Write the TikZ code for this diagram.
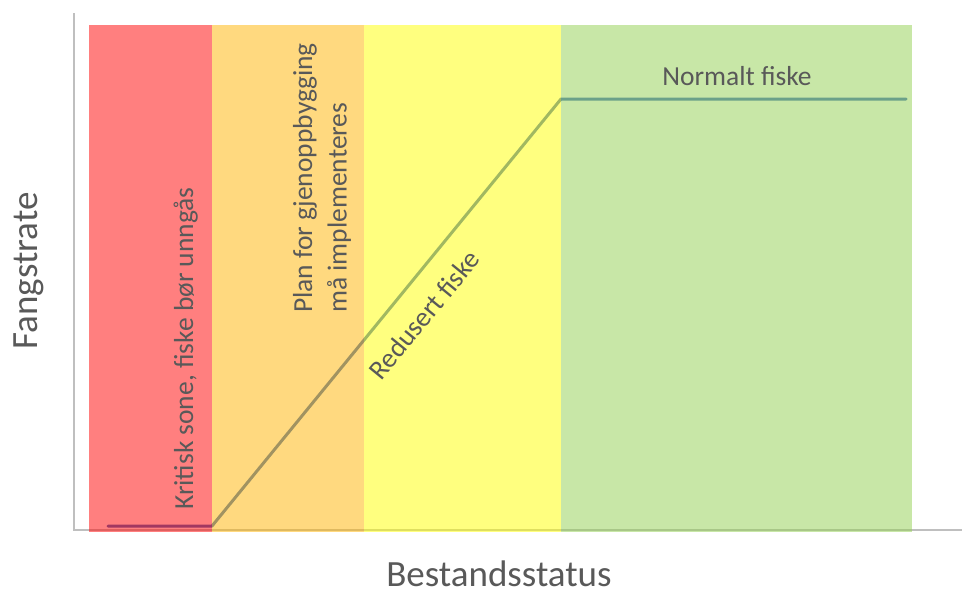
\documentclass[tikz,border=0pt]{standalone}
\usepackage{fontspec}
\setmainfont{Carlito}
\usepackage{tikz}
\usepackage{xcolor}

\definecolor{zred}{RGB}{255,0,0}
\definecolor{zorange}{RGB}{255,180,0}
\definecolor{zyellow}{RGB}{255,255,0}
\definecolor{zgreen}{RGB}{146,208,80}
\definecolor{fblue}{RGB}{68,114,196}
\definecolor{txtgray}{RGB}{89,89,89}
\definecolor{axgray}{RGB}{191,191,191}

\tikzset{
  zone/.style={fill=#1,fill opacity=.5},
  axis/.style={draw=axgray,line width=2pt},
  fline/.style={draw=fblue,line width=3pt,line cap=round,line join=round},
  lbl/.style={text=txtgray,inner sep=0pt,font=\fontsize{27.5}{34.5}\selectfont},
  axlbl/.style={text=txtgray,inner sep=0pt,font=\fontsize{37}{42}\selectfont}
}

\begin{document}
\begin{tikzpicture}[x=1pt,y=-1pt]
  \useasboundingbox (0,0) rectangle (962,590);
  \draw[axis] (74,13) |- (962,530);

  \path (108,526) coordinate (lo) ++(104,0)
    coordinate (k1) ++(349,-427)
    coordinate (k2) ++(345,0)
    coordinate (hi);
  \draw[fline] (lo) -- (k1) -- (k2) -- (hi);

  \fill[zone=zred] (89,25) rectangle ++(123,507);
  \fill[zone=zorange] (212,25) rectangle ++(152,507);
  \fill[zone=zyellow] (364,25) rectangle ++(197,507);
  \fill[zone=zgreen] (561,25) rectangle ++(351,507);

  \node (ks) [lbl,rotate=90,anchor=base west] at (193,510)
    {Kritisk sone, fiske bør unngås};
  \node (pg) [lbl,rotate=90,anchor=west,align=left] at (322,313)
    {Plan for gjenoppbygging\\må implementeres};
  \node (rf) [lbl,rotate=50.7] at (424,315) {Redusert fiske};
  \node (nf) [lbl,anchor=base] at (737,85) {Normalt fiske};

  \node (fr) [axlbl,rotate=90] at (29,271) {Fangstrate};
  \node (bs) [axlbl,anchor=base] at (499,586) {Bestandsstatus};
\end{tikzpicture}
\end{document}
